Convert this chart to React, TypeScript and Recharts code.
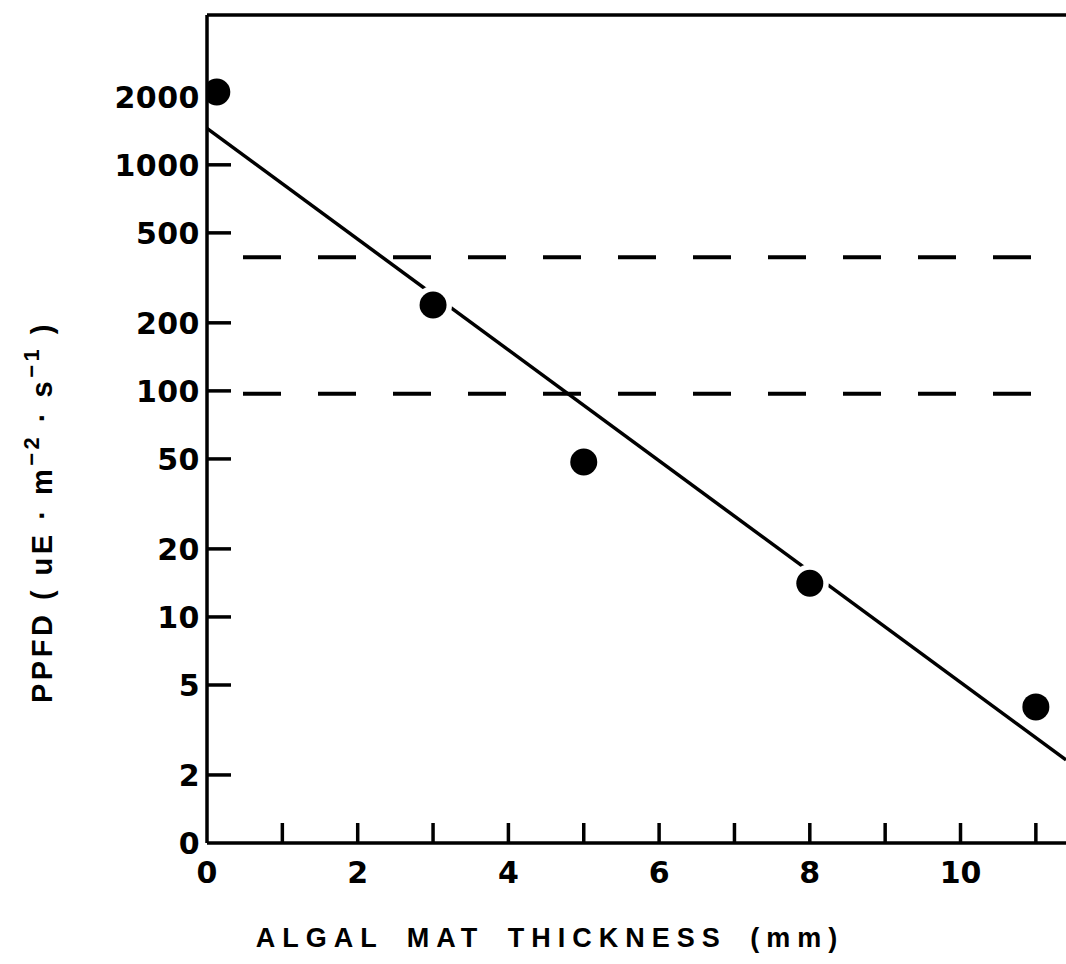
import {
  ComposedChart, Line, Scatter, XAxis, YAxis, ReferenceLine,
} from 'recharts'

// measured points: algal mat thickness (mm) vs PPFD
const thickness = [0.13, 3, 5, 8, 11]
const ppfd = [2100, 240, 48.5, 14.1, 4.0]

// fitted regression line end points
const fitThickness = [0, 11.4]
const fitPpfd = [1450, 2.33]

// horizontal dashed reference levels
const dashedLevels = [390, 97]

const xTicks = [0, 1, 2, 3, 4, 5, 6, 7, 8, 9, 10, 11]
const yTicks = [1, 2, 5, 10, 20, 50, 100, 200, 500, 1000, 2000]
const yTickLabels = ['0', '2', '5', '10', '20', '50', '100', '200', '500', '1000', '2000']

const points = thickness.map((mm, i) => ({ mm, ppfd: ppfd[i] }))
const fitLine = fitThickness.map((mm, i) => ({ mm, ppfd: fitPpfd[i] }))

const INK = '#000'
const TICK_FONT = '"DejaVu Sans", sans-serif'
const LABEL_FONT = '"Liberation Sans", Arial, sans-serif'

function YTick({ x, y, payload }: any) {
  const v = payload.value
  const idx = yTicks.indexOf(v)
  return (
    <g>
      {v > 1 && v < 2000 && (
        <line x1={x} x2={x + 24} y1={y} y2={y} stroke={INK} strokeWidth={3.5} />
      )}
      <text x={x - 7} y={y} dy="0.36em" textAnchor="end" fill={INK}
        fontFamily={TICK_FONT} fontWeight="bold" fontSize={30} letterSpacing={0.5}>
        {yTickLabels[idx]}
      </text>
    </g>
  )
}

function XTick({ x, y, payload }: any) {
  const v = payload.value
  return (
    <g>
      {v > 0 && <line x1={x} x2={x} y1={y} y2={y - 20} stroke={INK} strokeWidth={3.5} />}
      {v % 2 === 0 && (
        <text x={x} y={y + 29} dy="0.36em" textAnchor="middle" fill={INK}
          fontFamily={TICK_FONT} fontWeight="bold" fontSize={30}>
          {v}
        </text>
      )}
    </g>
  )
}

// filled marker; a white ring breaks the regression line where it passes close by
function Dot({ cx, cy, payload }: any) {
  const halo = payload.mm > 0.5
  return (
    <g>
      {halo && <circle cx={cx} cy={cy} r={19} fill="#fff" />}
      <circle cx={cx} cy={cy} r={13.5} fill={INK} />
    </g>
  )
}

export default function App() {
  return (
    <div style={{ position: 'absolute', left: 0, top: 0, background: '#fff' }}>
      <ComposedChart width={1066} height={964} margin={{ top: 14, right: 0, bottom: 0, left: 0 }}>
        <XAxis
          xAxisId="top"
          orientation="top"
          type="number"
          domain={[0, 11.4]}
          height={1}
          tick={false}
          tickLine={false}
          axisLine={{ stroke: INK, strokeWidth: 3.5 }}
        />
        <XAxis
          dataKey="mm"
          type="number"
          domain={[0, 11.4]}
          allowDataOverflow
          ticks={xTicks}
          interval={0}
          height={121}
          tickSize={0}
          tickMargin={0}
          tick={<XTick />}
          axisLine={{ stroke: INK, strokeWidth: 3.5 }}
          label={{
            content: () => (
              <text x={550} y={947} textAnchor="middle" fill={INK}
                fontFamily={LABEL_FONT} fontWeight="bold" fontSize={27}
                letterSpacing={7} wordSpacing={9}>
                ALGAL MAT THICKNESS (mm)
              </text>
            ),
          }}
        />
        <YAxis
          dataKey="ppfd"
          type="number"
          scale="log"
          domain={[1, 4600]}
          allowDataOverflow
          ticks={yTicks}
          interval={0}
          width={207}
          tickSize={0}
          tickMargin={0}
          tick={<YTick />}
          axisLine={{ stroke: INK, strokeWidth: 3.5 }}
          label={{
            content: () => (
              <text transform="translate(52,512) rotate(-90)" textAnchor="middle" fill={INK}
                fontFamily={LABEL_FONT} fontWeight="bold" fontSize={29} letterSpacing={3.5}>
                PPFD ( uE · m
                <tspan dy={-13} fontSize={22}>−2</tspan>
                <tspan dy={13}> · s</tspan>
                <tspan dy={-13} fontSize={22}>−1</tspan>
                <tspan dy={13}> )</tspan>
              </text>
            ),
          }}
        />
        {dashedLevels.map((lvl) => (
          <ReferenceLine key={lvl} y={lvl} stroke={INK} strokeWidth={4}
            strokeDasharray="38 37" strokeDashoffset={39} />
        ))}
        <Line data={fitLine} dataKey="ppfd" stroke={INK} strokeWidth={3.5}
          dot={false} activeDot={false} isAnimationActive={false} />
        <Scatter data={points} dataKey="ppfd" shape={<Dot />} isAnimationActive={false} />
      </ComposedChart>
    </div>
  )
}
